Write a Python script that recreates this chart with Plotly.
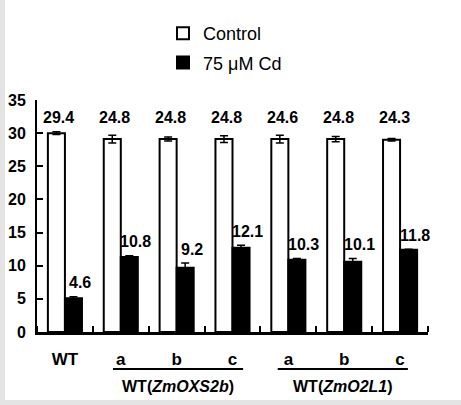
import plotly.graph_objects as go

categories = ["WT", "a", "b", "c", "a", "b", "c"]
control_vals = [30.0, 29.1, 29.1, 29.1, 29.1, 29.1, 29.0]
control_err = [0.2, 0.6, 0.3, 0.5, 0.6, 0.4, 0.2]
cd_vals = [5.1, 11.3, 9.7, 12.7, 10.9, 10.6, 12.4]
cd_err = [0.2, 0.2, 0.7, 0.4, 0.2, 0.5, 0.1]
control_labels = ["29.4", "24.8", "24.8", "24.8", "24.6", "24.8", "24.3"]
cd_labels = ["4.6", "10.8", "9.2", "12.1", "10.3", "10.1", "11.8"]
group_names = ["WT(<i>ZmOXS2b</i>)", "WT(<i>ZmO2L1</i>)"]
y_ticks = [0, 5, 10, 15, 20, 25, 30, 35]

FONT = "Liberation Sans Narrow, Arial Narrow, Liberation Sans, Arial, sans-serif"
xpos = list(range(len(categories)))

W, H = 461, 405
L, R, T, B = 37, 33, 100, 73
pw, ph = W - L - R, H - T - B

def px_x(p):
    return (p - L) / pw

def px_y(p):
    return (H - B - p) / ph

fig = go.Figure()
fig.add_trace(go.Bar(
    x=xpos, y=control_vals, name="Control", legendgroup="c",
    marker=dict(color="white", line=dict(color="black", width=2)),
    error_y=dict(type="data", array=control_err, color="black", thickness=1.5, width=4),
))
fig.add_trace(go.Bar(
    x=xpos, y=cd_vals, name="75 μM Cd", legendgroup="d",
    marker=dict(color="black", line=dict(color="black", width=2)),
    error_y=dict(type="data", array=cd_err, color="black", thickness=1.5, width=4),
))

annotations = []
for i, lab in enumerate(control_labels):
    annotations.append(dict(x=i, y=32.4, xref="x", yref="y", text=lab, showarrow=False,
                            xshift=-6, font=dict(family=FONT, size=16, color="black", weight="bold")))
for i, lab in enumerate(cd_labels):
    annotations.append(dict(x=i, y=cd_vals[i] + cd_err[i], xref="x", yref="y", text=lab,
                            showarrow=False, xshift=15, yshift=14, yanchor="middle",
                            font=dict(family=FONT, size=16, color="black", weight="bold")))
group_spans = [(0.86, 3.19), (3.81, 6.14)]
shapes = []
for (x0, x1), name in zip(group_spans, group_names):
    shapes.append(dict(type="line", xref="x", yref="paper", x0=x0, x1=x1,
                       y0=px_y(369), y1=px_y(369), line=dict(color="black", width=2)))
    annotations.append(dict(x=(x0 + x1) / 2, y=px_y(386), xref="x", yref="paper", text=name,
                            showarrow=False, yanchor="middle",
                            font=dict(family=FONT, size=16, color="black", weight="bold")))

# grey screenshot border
shapes.append(dict(type="rect", xref="paper", yref="paper", x0=px_x(0), x1=px_x(5),
                   y0=px_y(405), y1=px_y(0), fillcolor="#e4e4e4", line=dict(width=0), layer="below"))
shapes.append(dict(type="rect", xref="paper", yref="paper", x0=px_x(0), x1=px_x(461),
                   y0=px_y(405), y1=px_y(400), fillcolor="#e4e4e4", line=dict(width=0), layer="below"))

fig.update_layout(
    width=W, height=H,
    margin=dict(l=L, r=R, t=T, b=B, autoexpand=False),
    paper_bgcolor="white", plot_bgcolor="rgba(0,0,0,0)",
    barmode="group", bargap=0.39, bargroupgap=0,
    font=dict(family=FONT, color="black", size=16),
    showlegend=True,
    legend=dict(x=px_x(163), y=px_y(15), xanchor="left", yanchor="top",
                traceorder="grouped", tracegroupgap=3,
                font=dict(family=FONT, size=18, color="black"),
                bgcolor="rgba(0,0,0,0)"),
    annotations=annotations, shapes=shapes,
    xaxis=dict(range=[-0.5, 6.5], tickvals=xpos, ticktext=categories, ticks="",
               showline=True, linecolor="black", linewidth=2.5, showgrid=False, zeroline=False,
               ticklabelstandoff=10, automargin=False,
               tickfont=dict(family=FONT, size=17, color="black", weight="bold"),
               minor=dict(ticks="inside", tick0=-0.5, dtick=1, ticklen=6, tickwidth=2,
                          tickcolor="black", showgrid=False)),
    yaxis=dict(range=[0, 35], tickvals=y_ticks, ticks="inside", ticklen=6, tickwidth=2,
               tickcolor="black", showline=True, linecolor="black", linewidth=2,
               showgrid=False, zeroline=False, ticklabelstandoff=6, automargin=False,
               tickfont=dict(family=FONT, size=16, color="black", weight="bold")),
)

fig.write_html("out.html", config={"displayModeBar": False},
               post_script="document.body.style.margin='0';document.body.style.padding='0';")
